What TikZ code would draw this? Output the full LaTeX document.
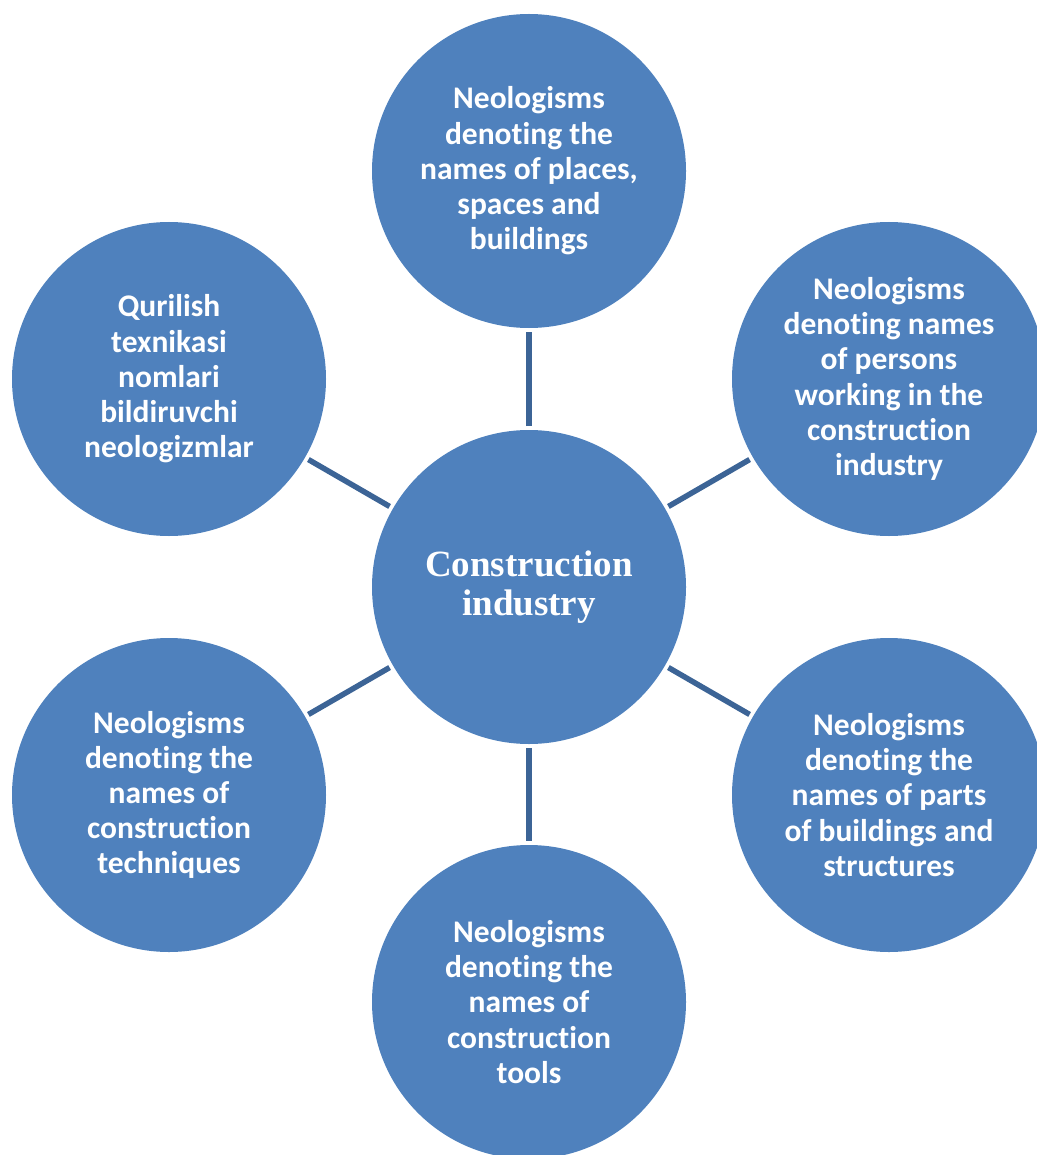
\documentclass[tikz,border=0pt]{standalone}
\usepackage{fontspec}
\setmainfont{Liberation Serif}
\newfontfamily\calibri[Ligatures={NoCommon,NoContextual},Contextuals=NoAlternate]{Carlito}
\definecolor{circfill}{HTML}{4F81BD}
\definecolor{linkcol}{HTML}{3C6496}
\tikzset{
  bubble/.style={circle, fill=circfill, minimum size=314pt, inner sep=0pt, outer sep=0pt,
    text=white, align=center, font=\calibri\bfseries\fontsize{31.5}{35.2}\selectfont},
  hub/.style={bubble, font=\bfseries\fontsize{37}{39}\selectfont},
  link/.style={draw=linkcol, line width=5.5pt, shorten >=4pt, shorten <=4pt}
}
\begin{document}
\begin{tikzpicture}[x=1pt,y=-1pt]
\useasboundingbox (0,0) rectangle (1036,1155);
\node[hub] (c) at (529,587) {Construction\\industry};
\node[bubble] (t) at (529,171) {Neologisms\\denoting the\\names of places,\\spaces and\\buildings};
\node[bubble] (tr) at (889,379) {Neologisms\\denoting names\\of persons\\working in the\\construction\\industry};
\node[bubble] (br) at (889,795) {Neologisms\\denoting the\\names of parts\\of buildings and\\structures};
\node[bubble] (b) at (529,1002) {Neologisms\\denoting the\\names of\\construction\\tools};
\node[bubble] (bl) at (169,795) {Neologisms\\denoting the\\names of\\construction\\techniques};
\node[bubble] (tl) at (169,379) {Qurilish\\texnikasi\\nomlari\\bildiruvchi\\neologizmlar};
\foreach \n in {t,tr,br,b,bl,tl} \draw[link] (c) -- (\n);
\end{tikzpicture}
\end{document}
